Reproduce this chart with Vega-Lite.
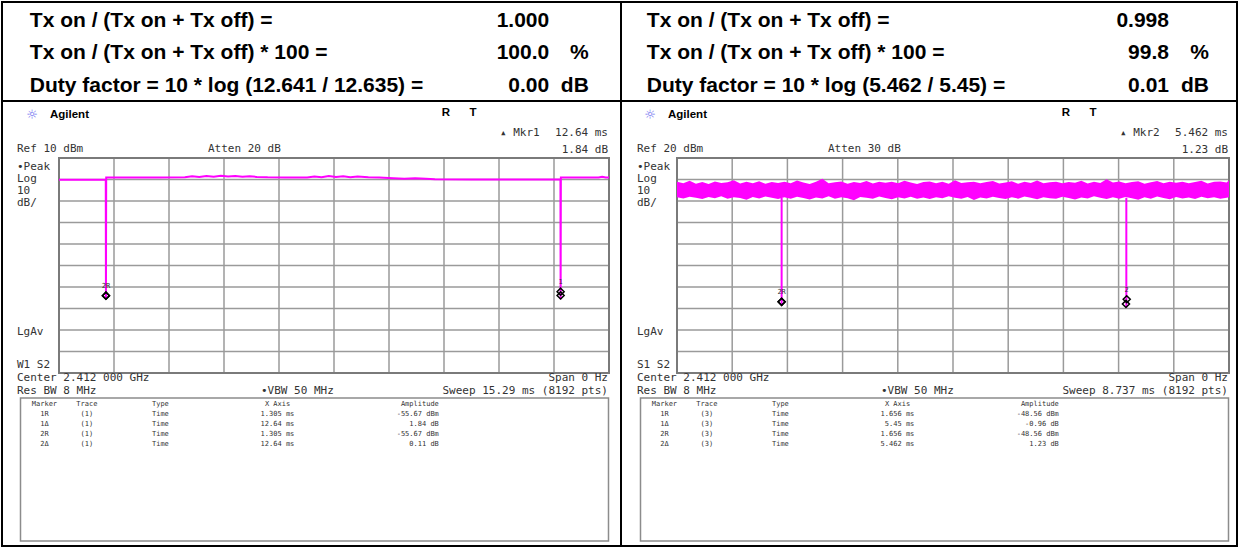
{
  "$schema": "https://vega.github.io/schema/vega-lite/v6.json",
  "padding": 1,
  "background": "white",
  "spacing": 0,
  "columns": 2,
  "bounds": "flush",
  "config": {"view": {"stroke": "#000000", "strokeWidth": 2}, "concat": {"spacing": 0}},
  "datasets": {
    "header": [
      {"panel": "L", "row": 1, "label": "Tx on / (Tx on + Tx off) =", "number": "1.000", "unit": ""},
      {"panel": "L", "row": 2, "label": "Tx on / (Tx on + Tx off) * 100 =", "number": "100.0", "unit": "%"},
      {"panel": "L", "row": 3, "label": "Duty factor = 10 * log (12.641 / 12.635) =", "number": "0.00", "unit": "dB"},
      {"panel": "R", "row": 1, "label": "Tx on / (Tx on + Tx off) =", "number": "0.998", "unit": ""},
      {"panel": "R", "row": 2, "label": "Tx on / (Tx on + Tx off) * 100 =", "number": "99.8", "unit": "%"},
      {"panel": "R", "row": 3, "label": "Duty factor = 10 * log (5.462 / 5.45) =", "number": "0.01", "unit": "dB"}
    ],
    "vgrid": [
      {"panel": "L", "t": 1.529}, {"panel": "L", "t": 3.058}, {"panel": "L", "t": 4.587}, {"panel": "L", "t": 6.116}, {"panel": "L", "t": 7.645},
      {"panel": "L", "t": 9.174}, {"panel": "L", "t": 10.703}, {"panel": "L", "t": 12.232}, {"panel": "L", "t": 13.761},
      {"panel": "R", "t": 0.8737}, {"panel": "R", "t": 1.7474}, {"panel": "R", "t": 2.6211}, {"panel": "R", "t": 3.4948}, {"panel": "R", "t": 4.3685},
      {"panel": "R", "t": 5.2422}, {"panel": "R", "t": 6.1159}, {"panel": "R", "t": 6.9896}, {"panel": "R", "t": 7.8633}
    ],
    "hgrid": [
      {"panel": "L", "dbm": 0}, {"panel": "L", "dbm": -10}, {"panel": "L", "dbm": -20}, {"panel": "L", "dbm": -30}, {"panel": "L", "dbm": -40},
      {"panel": "L", "dbm": -50}, {"panel": "L", "dbm": -60}, {"panel": "L", "dbm": -70}, {"panel": "L", "dbm": -80},
      {"panel": "R", "dbm": 10}, {"panel": "R", "dbm": 0}, {"panel": "R", "dbm": -10}, {"panel": "R", "dbm": -20}, {"panel": "R", "dbm": -30},
      {"panel": "R", "dbm": -40}, {"panel": "R", "dbm": -50}, {"panel": "R", "dbm": -60}, {"panel": "R", "dbm": -70}
    ],
    "traceL": [
      {"t": 0, "dbm": -0.1}, {"t": 0.6, "dbm": -0.1}, {"t": 1.3, "dbm": -0.1}, {"t": 1.305, "dbm": -55.67}, {"t": 1.312, "dbm": 0.9},
      {"t": 2.0, "dbm": 0.9}, {"t": 2.8, "dbm": 0.9}, {"t": 3.5, "dbm": 1.0}, {"t": 3.7, "dbm": 1.5}, {"t": 3.9, "dbm": 1.2},
      {"t": 4.1, "dbm": 1.6}, {"t": 4.3, "dbm": 1.3}, {"t": 4.5, "dbm": 1.7}, {"t": 4.7, "dbm": 1.4}, {"t": 4.9, "dbm": 1.6},
      {"t": 5.1, "dbm": 1.3}, {"t": 5.3, "dbm": 1.5}, {"t": 5.5, "dbm": 1.2}, {"t": 5.8, "dbm": 1.0}, {"t": 6.3, "dbm": 0.9},
      {"t": 6.9, "dbm": 0.9}, {"t": 7.1, "dbm": 1.4}, {"t": 7.3, "dbm": 1.1}, {"t": 7.5, "dbm": 1.6}, {"t": 7.7, "dbm": 1.2},
      {"t": 7.9, "dbm": 1.5}, {"t": 8.1, "dbm": 1.1}, {"t": 8.3, "dbm": 1.4}, {"t": 8.6, "dbm": 1.0}, {"t": 8.9, "dbm": 0.9},
      {"t": 9.3, "dbm": 0.6}, {"t": 9.6, "dbm": 0.4}, {"t": 9.9, "dbm": 0.6}, {"t": 10.2, "dbm": 0.4}, {"t": 10.45, "dbm": 0.1},
      {"t": 11.5, "dbm": 0.0}, {"t": 12.5, "dbm": 0.0}, {"t": 13.5, "dbm": 0.0}, {"t": 13.94, "dbm": 0.0}, {"t": 13.945, "dbm": -55.67},
      {"t": 13.952, "dbm": 0.9}, {"t": 14.5, "dbm": 0.9}, {"t": 15.0, "dbm": 0.9}, {"t": 15.1, "dbm": 1.3}, {"t": 15.2, "dbm": 0.9},
      {"t": 15.29, "dbm": 0.9}
    ],
    "envR": [
      {"t": 0.0, "lo": 1.8, "hi": 8.9}, {"t": 0.1, "lo": 1.2, "hi": 8.2}, {"t": 0.2, "lo": 2.0, "hi": 9.4}, {"t": 0.3, "lo": 1.5, "hi": 8.0},
      {"t": 0.4, "lo": 0.9, "hi": 8.8}, {"t": 0.5, "lo": 1.9, "hi": 7.9}, {"t": 0.6, "lo": 1.3, "hi": 9.1}, {"t": 0.7, "lo": 2.2, "hi": 8.4},
      {"t": 0.8, "lo": 1.0, "hi": 8.7}, {"t": 0.9, "lo": 1.7, "hi": 9.6}, {"t": 1.0, "lo": 1.4, "hi": 8.1}, {"t": 1.1, "lo": 0.6, "hi": 8.9},
      {"t": 1.2, "lo": 1.9, "hi": 8.3}, {"t": 1.3, "lo": 1.2, "hi": 9.2}, {"t": 1.4, "lo": 2.1, "hi": 8.0}, {"t": 1.5, "lo": 1.5, "hi": 8.8},
      {"t": 1.6, "lo": 0.9, "hi": 8.4}, {"t": 1.7, "lo": 1.8, "hi": 9.0}, {"t": 1.8, "lo": 1.1, "hi": 8.2}, {"t": 1.9, "lo": 2.0, "hi": 9.5},
      {"t": 2.0, "lo": 1.4, "hi": 8.6}, {"t": 2.1, "lo": 0.7, "hi": 7.9}, {"t": 2.2, "lo": 1.6, "hi": 8.9}, {"t": 2.3, "lo": 1.2, "hi": 10.3},
      {"t": 2.4, "lo": 2.2, "hi": 8.3}, {"t": 2.5, "lo": 1.0, "hi": 8.7}, {"t": 2.6, "lo": 1.8, "hi": 9.1}, {"t": 2.7, "lo": 1.3, "hi": 8.0},
      {"t": 2.8, "lo": 0.4, "hi": 8.8}, {"t": 2.9, "lo": 1.9, "hi": 8.4}, {"t": 3.0, "lo": 1.5, "hi": 9.3}, {"t": 3.1, "lo": 1.0, "hi": 8.1},
      {"t": 3.2, "lo": 2.1, "hi": 8.9}, {"t": 3.3, "lo": 1.4, "hi": 8.5}, {"t": 3.4, "lo": 0.8, "hi": 9.0}, {"t": 3.5, "lo": 1.7, "hi": 8.2},
      {"t": 3.6, "lo": 1.2, "hi": 9.4}, {"t": 3.7, "lo": 2.0, "hi": 8.6}, {"t": 3.8, "lo": 1.1, "hi": 7.9}, {"t": 3.9, "lo": 1.6, "hi": 8.8},
      {"t": 4.0, "lo": 0.9, "hi": 9.1}, {"t": 4.1, "lo": 1.8, "hi": 8.3}, {"t": 4.2, "lo": 1.3, "hi": 8.9}, {"t": 4.3, "lo": 2.2, "hi": 8.0},
      {"t": 4.4, "lo": 1.5, "hi": 9.6}, {"t": 4.5, "lo": 1.0, "hi": 8.4}, {"t": 4.6, "lo": 1.9, "hi": 8.7}, {"t": 4.7, "lo": 0.5, "hi": 9.0},
      {"t": 4.8, "lo": 1.6, "hi": 8.2}, {"t": 4.9, "lo": 1.2, "hi": 8.8}, {"t": 5.0, "lo": 2.0, "hi": 9.3}, {"t": 5.1, "lo": 1.4, "hi": 8.1},
      {"t": 5.2, "lo": 0.9, "hi": 8.6}, {"t": 5.3, "lo": 1.7, "hi": 9.2}, {"t": 5.4, "lo": 1.1, "hi": 8.0}, {"t": 5.5, "lo": 2.1, "hi": 8.9},
      {"t": 5.6, "lo": 1.5, "hi": 8.4}, {"t": 5.7, "lo": 0.8, "hi": 9.5}, {"t": 5.8, "lo": 1.8, "hi": 8.3}, {"t": 5.9, "lo": 1.3, "hi": 8.7},
      {"t": 6.0, "lo": 1.0, "hi": 9.0}, {"t": 6.1, "lo": 2.0, "hi": 8.2}, {"t": 6.2, "lo": 1.4, "hi": 8.8}, {"t": 6.3, "lo": 0.7, "hi": 8.5},
      {"t": 6.4, "lo": 1.6, "hi": 9.4}, {"t": 6.5, "lo": 1.2, "hi": 8.1}, {"t": 6.6, "lo": 2.2, "hi": 8.9}, {"t": 6.7, "lo": 1.5, "hi": 8.4},
      {"t": 6.8, "lo": 0.9, "hi": 10.1}, {"t": 6.9, "lo": 1.8, "hi": 8.6}, {"t": 7.0, "lo": 1.1, "hi": 9.1}, {"t": 7.1, "lo": 1.9, "hi": 8.3},
      {"t": 7.2, "lo": 1.3, "hi": 8.8}, {"t": 7.3, "lo": 0.6, "hi": 9.2}, {"t": 7.4, "lo": 1.7, "hi": 8.0}, {"t": 7.5, "lo": 1.0, "hi": 8.7},
      {"t": 7.6, "lo": 2.1, "hi": 9.3}, {"t": 7.7, "lo": 1.4, "hi": 8.2}, {"t": 7.8, "lo": 0.8, "hi": 8.9}, {"t": 7.9, "lo": 1.9, "hi": 8.5},
      {"t": 8.0, "lo": 1.2, "hi": 9.0}, {"t": 8.1, "lo": 1.6, "hi": 8.3}, {"t": 8.2, "lo": 0.9, "hi": 8.8}, {"t": 8.3, "lo": 2.0, "hi": 9.4},
      {"t": 8.4, "lo": 1.3, "hi": 8.1}, {"t": 8.5, "lo": 1.7, "hi": 8.9}, {"t": 8.6, "lo": 1.0, "hi": 9.1}, {"t": 8.7, "lo": 1.5, "hi": 8.6},
      {"t": 8.737, "lo": 1.8, "hi": 9.7}
    ],
    "dipsR": [
      {"t": 1.656, "lo": -48.56, "hi": 1.5},
      {"t": 7.112, "lo": -49.52, "hi": 1.5}
    ],
    "markers": [
      {"panel": "L", "marker": "1R", "t": 1.305, "dbm": -55.67, "label": ""},
      {"panel": "L", "marker": "2R", "t": 1.305, "dbm": -55.67, "label": "2R"},
      {"panel": "L", "marker": "1Δ", "t": 13.945, "dbm": -53.83, "label": "1"},
      {"panel": "L", "marker": "2Δ", "t": 13.945, "dbm": -55.56, "label": ""},
      {"panel": "R", "marker": "1R", "t": 1.656, "dbm": -48.56, "label": ""},
      {"panel": "R", "marker": "2R", "t": 1.656, "dbm": -48.56, "label": "2R"},
      {"panel": "R", "marker": "1Δ", "t": 7.106, "dbm": -49.52, "label": ""},
      {"panel": "R", "marker": "2Δ", "t": 7.118, "dbm": -47.33, "label": "2"}
    ],
    "table": [
      {"panel": "L", "order": 2, "marker": "1R", "trace": "(1)", "type": "Time", "xaxis": "1.305 ms", "amplitude": "-55.67 dBm"},
      {"panel": "L", "order": 3, "marker": "1Δ", "trace": "(1)", "type": "Time", "xaxis": "12.64 ms", "amplitude": "1.84 dB"},
      {"panel": "L", "order": 4, "marker": "2R", "trace": "(1)", "type": "Time", "xaxis": "1.305 ms", "amplitude": "-55.67 dBm"},
      {"panel": "L", "order": 5, "marker": "2Δ", "trace": "(1)", "type": "Time", "xaxis": "12.64 ms", "amplitude": "0.11 dB"},
      {"panel": "R", "order": 2, "marker": "1R", "trace": "(3)", "type": "Time", "xaxis": "1.656 ms", "amplitude": "-48.56 dBm"},
      {"panel": "R", "order": 3, "marker": "1Δ", "trace": "(3)", "type": "Time", "xaxis": "5.45 ms", "amplitude": "-0.96 dB"},
      {"panel": "R", "order": 4, "marker": "2R", "trace": "(3)", "type": "Time", "xaxis": "1.656 ms", "amplitude": "-48.56 dBm"},
      {"panel": "R", "order": 5, "marker": "2Δ", "trace": "(3)", "type": "Time", "xaxis": "5.462 ms", "amplitude": "1.23 dB"}
    ]
  },
  "concat": [
    {
      "width": 619,
      "height": 99,
      "data": {"name": "header"},
      "transform": [{"filter": "datum.panel === 'L'"}],
      "layer": [
        {"mark": {"type": "text", "align": "left", "baseline": "alphabetic", "font": "Liberation Sans", "fontWeight": "bold", "fontSize": 21, "color": "#000000"},
         "encoding": {
           "x": {"datum": 0.045, "type": "quantitative", "scale": {"domain": [0, 1], "range": [0, 619], "nice": false, "zero": false}, "axis": null},
           "y": {"field": "row", "type": "quantitative", "scale": {"domain": [1, 3], "range": [25, 89.5], "nice": false, "zero": false}, "axis": null},
           "text": {"field": "label"}}},
        {"mark": {"type": "text", "align": "right", "baseline": "alphabetic", "font": "Liberation Sans", "fontWeight": "bold", "fontSize": 21, "color": "#000000"},
         "encoding": {
           "x": {"datum": 0.884, "type": "quantitative", "axis": null},
           "y": {"field": "row", "type": "quantitative", "axis": null},
           "text": {"field": "number"}}},
        {"mark": {"type": "text", "align": "right", "baseline": "alphabetic", "font": "Liberation Sans", "fontWeight": "bold", "fontSize": 21, "color": "#000000"},
         "encoding": {
           "x": {"datum": 0.948, "type": "quantitative", "axis": null},
           "y": {"field": "row", "type": "quantitative", "axis": null},
           "text": {"field": "unit"}}}
      ]
    },
    {
      "width": 616,
      "height": 99,
      "data": {"name": "header"},
      "transform": [{"filter": "datum.panel === 'R'"}],
      "layer": [
        {"mark": {"type": "text", "align": "left", "baseline": "alphabetic", "font": "Liberation Sans", "fontWeight": "bold", "fontSize": 21, "color": "#000000"},
         "encoding": {
           "x": {"datum": 0.042, "type": "quantitative", "scale": {"domain": [0, 1], "range": [0, 616], "nice": false, "zero": false}, "axis": null},
           "y": {"field": "row", "type": "quantitative", "scale": {"domain": [1, 3], "range": [25, 89.5], "nice": false, "zero": false}, "axis": null},
           "text": {"field": "label"}}},
        {"mark": {"type": "text", "align": "right", "baseline": "alphabetic", "font": "Liberation Sans", "fontWeight": "bold", "fontSize": 21, "color": "#000000"},
         "encoding": {
           "x": {"datum": 0.8896, "type": "quantitative", "axis": null},
           "y": {"field": "row", "type": "quantitative", "axis": null},
           "text": {"field": "number"}}},
        {"mark": {"type": "text", "align": "right", "baseline": "alphabetic", "font": "Liberation Sans", "fontWeight": "bold", "fontSize": 21, "color": "#000000"},
         "encoding": {
           "x": {"datum": 0.9545, "type": "quantitative", "axis": null},
           "y": {"field": "row", "type": "quantitative", "axis": null},
           "text": {"field": "unit"}}}
      ]
    },
    {
      "width": 619,
      "height": 445,
      "resolve": {"scale": {"x": "independent", "y": "independent"}},
      "layer": [
        {
          "layer": [
            {"data": {"name": "vgrid"}, "transform": [{"filter": "datum.panel === 'L'"}],
             "mark": {"type": "rule", "color": "#9a9a9a", "strokeWidth": 1.5},
             "encoding": {
               "x": {"field": "t", "type": "quantitative", "scale": {"domain": [0, 15.29], "range": [57, 607], "nice": false, "zero": false}, "axis": null},
               "y": {"datum": -90, "type": "quantitative", "scale": {"domain": [-90, 10], "range": [272, 57], "nice": false, "zero": false}, "axis": null},
               "y2": {"datum": 10}}},
            {"data": {"name": "hgrid"}, "transform": [{"filter": "datum.panel === 'L'"}],
             "mark": {"type": "rule", "color": "#9a9a9a", "strokeWidth": 1.5},
             "encoding": {
               "y": {"field": "dbm", "type": "quantitative", "axis": null},
               "x": {"datum": 0, "type": "quantitative", "axis": null},
               "x2": {"datum": 15.29}}},
            {"data": {"values": [{}]},
             "mark": {"type": "rect", "fillOpacity": 0, "stroke": "#7a7a7a", "strokeWidth": 2},
             "encoding": {
               "x": {"datum": 0, "type": "quantitative", "axis": null}, "x2": {"datum": 15.29},
               "y": {"datum": -90, "type": "quantitative", "axis": null}, "y2": {"datum": 10}}},
            {"data": {"name": "traceL"},
             "mark": {"type": "line", "color": "#ff00ff", "strokeWidth": 2},
             "encoding": {
               "x": {"field": "t", "type": "quantitative", "axis": null},
               "y": {"field": "dbm", "type": "quantitative", "axis": null}}},
            {"data": {"name": "markers"}, "transform": [{"filter": "datum.panel === 'L'"}],
             "mark": {"type": "point", "shape": "M0,-1L0.5,-0.5L0,0L-0.5,-0.5Z", "filled": false, "color": "#000000", "strokeWidth": 1.5, "size": 200, "opacity": 1},
             "encoding": {
               "x": {"field": "t", "type": "quantitative", "axis": null},
               "y": {"field": "dbm", "type": "quantitative", "axis": null}}},
            {"data": {"name": "markers"}, "transform": [{"filter": "datum.panel === 'L' && datum.label !== ''"}],
             "mark": {"type": "text", "dy": -13, "font": "DejaVu Sans Mono", "fontSize": 7, "color": "#333333"},
             "encoding": {
               "x": {"field": "t", "type": "quantitative", "axis": null},
               "y": {"field": "dbm", "type": "quantitative", "axis": null},
               "text": {"field": "label"}}},
            {
              "data": {"values": [{}]},
              "layer": [
                {"mark": {"type": "text", "text": "☼", "align": "center", "baseline": "middle", "dx": -27, "dy": -43, "font": "DejaVu Sans", "fontSize": 13, "color": "#7070f0"},
                 "encoding": {"x": {"datum": 0, "type": "quantitative", "axis": null}, "y": {"datum": 10, "type": "quantitative", "axis": null}}},
                {"mark": {"type": "text", "text": "Agilent", "align": "left", "baseline": "middle", "dx": -9, "dy": -43, "font": "Liberation Sans", "fontWeight": "bold", "fontSize": 11.5, "color": "#000000"},
                 "encoding": {"x": {"datum": 0, "type": "quantitative", "axis": null}, "y": {"datum": 10, "type": "quantitative", "axis": null}}},
                {"mark": {"type": "text", "text": "R", "align": "center", "baseline": "middle", "dx": -163, "dy": -45, "font": "Liberation Sans", "fontWeight": "bold", "fontSize": 11.5, "color": "#000000"},
                 "encoding": {"x": {"datum": 15.29, "type": "quantitative", "axis": null}, "y": {"datum": 10, "type": "quantitative", "axis": null}}},
                {"mark": {"type": "text", "text": "T", "align": "center", "baseline": "middle", "dx": -136, "dy": -45, "font": "Liberation Sans", "fontWeight": "bold", "fontSize": 11.5, "color": "#000000"},
                 "encoding": {"x": {"datum": 15.29, "type": "quantitative", "axis": null}, "y": {"datum": 10, "type": "quantitative", "axis": null}}},
                {"mark": {"type": "text", "text": "▴ Mkr1", "align": "left", "baseline": "middle", "dx": -109, "dy": -25, "font": "DejaVu Sans Mono", "fontSize": 11, "color": "#333333"},
                 "encoding": {"x": {"datum": 15.29, "type": "quantitative", "axis": null}, "y": {"datum": 10, "type": "quantitative", "axis": null}}},
                {"mark": {"type": "text", "text": ["12.64 ms", "1.84 dB"], "align": "right", "baseline": "middle", "lineHeight": 16.5, "dx": -1, "dy": -25, "font": "DejaVu Sans Mono", "fontSize": 11, "color": "#333333"},
                 "encoding": {"x": {"datum": 15.29, "type": "quantitative", "axis": null}, "y": {"datum": 10, "type": "quantitative", "axis": null}}},
                {"mark": {"type": "text", "text": "Ref 10 dBm", "align": "left", "baseline": "middle", "dx": -42, "dy": -9, "font": "DejaVu Sans Mono", "fontSize": 11, "color": "#333333"},
                 "encoding": {"x": {"datum": 0, "type": "quantitative", "axis": null}, "y": {"datum": 10, "type": "quantitative", "axis": null}}},
                {"mark": {"type": "text", "text": "Atten 20 dB", "align": "left", "baseline": "middle", "dx": 149, "dy": -9, "font": "DejaVu Sans Mono", "fontSize": 11, "color": "#333333"},
                 "encoding": {"x": {"datum": 0, "type": "quantitative", "axis": null}, "y": {"datum": 10, "type": "quantitative", "axis": null}}},
                {"mark": {"type": "text", "text": ["•Peak", "Log", "10", "dB/"], "align": "left", "baseline": "middle", "lineHeight": 12, "dx": -42, "dy": 9, "font": "DejaVu Sans Mono", "fontSize": 11, "color": "#333333"},
                 "encoding": {"x": {"datum": 0, "type": "quantitative", "axis": null}, "y": {"datum": 10, "type": "quantitative", "axis": null}}},
                {"mark": {"type": "text", "text": "LgAv", "align": "left", "baseline": "middle", "dx": -42, "dy": -41, "font": "DejaVu Sans Mono", "fontSize": 11, "color": "#333333"},
                 "encoding": {"x": {"datum": 0, "type": "quantitative", "axis": null}, "y": {"datum": -90, "type": "quantitative", "axis": null}}},
                {"mark": {"type": "text", "text": "W1 S2", "align": "left", "baseline": "middle", "dx": -42, "dy": -8, "font": "DejaVu Sans Mono", "fontSize": 11, "color": "#333333"},
                 "encoding": {"x": {"datum": 0, "type": "quantitative", "axis": null}, "y": {"datum": -90, "type": "quantitative", "axis": null}}},
                {"mark": {"type": "text", "text": ["Center 2.412 000 GHz", "Res BW 8 MHz"], "align": "left", "baseline": "middle", "lineHeight": 13, "dx": -42, "dy": 5, "font": "DejaVu Sans Mono", "fontSize": 11, "color": "#333333"},
                 "encoding": {"x": {"datum": 0, "type": "quantitative", "axis": null}, "y": {"datum": -90, "type": "quantitative", "axis": null}}},
                {"mark": {"type": "text", "text": ["Span 0 Hz", "Sweep 15.29 ms (8192 pts)"], "align": "right", "baseline": "middle", "lineHeight": 13, "dx": -1, "dy": 5, "font": "DejaVu Sans Mono", "fontSize": 11, "color": "#333333"},
                 "encoding": {"x": {"datum": 15.29, "type": "quantitative", "axis": null}, "y": {"datum": -90, "type": "quantitative", "axis": null}}},
                {"mark": {"type": "text", "text": "•VBW 50 MHz", "align": "left", "baseline": "middle", "dx": 202, "dy": 18, "font": "DejaVu Sans Mono", "fontSize": 11, "color": "#333333"},
                 "encoding": {"x": {"datum": 0, "type": "quantitative", "axis": null}, "y": {"datum": -90, "type": "quantitative", "axis": null}}}
              ]
            }
          ]
        },
        {
          "data": {"name": "table"},
          "transform": [{"filter": "datum.panel === 'L'"}],
          "layer": [
            {"data": {"values": [{}]},
             "mark": {"type": "rect", "fillOpacity": 0, "stroke": "#8c8c8c", "strokeWidth": 1.5},
             "encoding": {
               "x": {"datum": 0, "type": "quantitative", "scale": {"domain": [0, 140], "range": [18.5, 606.5], "nice": false, "zero": false}, "axis": null},
               "x2": {"datum": 140},
               "y": {"datum": 0.4, "type": "quantitative", "scale": {"domain": [0.4, 14.7], "range": [297, 440], "nice": false, "zero": false}, "axis": null},
               "y2": {"datum": 14.7}}},
            {"data": {"values": [{}]},
             "mark": {"type": "text", "text": "Marker", "align": "center", "baseline": "middle", "font": "DejaVu Sans Mono", "fontSize": 7, "color": "#333333"},
             "encoding": {"x": {"datum": 5.7, "type": "quantitative", "axis": null}, "y": {"datum": 1, "type": "quantitative", "axis": null}}},
            {"data": {"values": [{}]},
             "mark": {"type": "text", "text": "Trace", "align": "center", "baseline": "middle", "font": "DejaVu Sans Mono", "fontSize": 7, "color": "#333333"},
             "encoding": {"x": {"datum": 15.8, "type": "quantitative", "axis": null}, "y": {"datum": 1, "type": "quantitative", "axis": null}}},
            {"data": {"values": [{}]},
             "mark": {"type": "text", "text": "Type", "align": "left", "baseline": "middle", "font": "DejaVu Sans Mono", "fontSize": 7, "color": "#333333"},
             "encoding": {"x": {"datum": 31.3, "type": "quantitative", "axis": null}, "y": {"datum": 1, "type": "quantitative", "axis": null}}},
            {"data": {"values": [{}]},
             "mark": {"type": "text", "text": "X Axis", "align": "left", "baseline": "middle", "font": "DejaVu Sans Mono", "fontSize": 7, "color": "#333333"},
             "encoding": {"x": {"datum": 58.2, "type": "quantitative", "axis": null}, "y": {"datum": 1, "type": "quantitative", "axis": null}}},
            {"data": {"values": [{}]},
             "mark": {"type": "text", "text": "Amplitude", "align": "right", "baseline": "middle", "font": "DejaVu Sans Mono", "fontSize": 7, "color": "#333333"},
             "encoding": {"x": {"datum": 99.6, "type": "quantitative", "axis": null}, "y": {"datum": 1, "type": "quantitative", "axis": null}}},
            {"mark": {"type": "text", "align": "center", "baseline": "middle", "font": "DejaVu Sans Mono", "fontSize": 7, "color": "#333333"},
             "encoding": {"x": {"datum": 5.7, "type": "quantitative", "axis": null}, "y": {"field": "order", "type": "quantitative", "axis": null}, "text": {"field": "marker"}}},
            {"mark": {"type": "text", "align": "center", "baseline": "middle", "font": "DejaVu Sans Mono", "fontSize": 7, "color": "#333333"},
             "encoding": {"x": {"datum": 15.8, "type": "quantitative", "axis": null}, "y": {"field": "order", "type": "quantitative", "axis": null}, "text": {"field": "trace"}}},
            {"mark": {"type": "text", "align": "left", "baseline": "middle", "font": "DejaVu Sans Mono", "fontSize": 7, "color": "#333333"},
             "encoding": {"x": {"datum": 31.3, "type": "quantitative", "axis": null}, "y": {"field": "order", "type": "quantitative", "axis": null}, "text": {"field": "type"}}},
            {"mark": {"type": "text", "align": "right", "baseline": "middle", "font": "DejaVu Sans Mono", "fontSize": 7, "color": "#333333"},
             "encoding": {"x": {"datum": 65.2, "type": "quantitative", "axis": null}, "y": {"field": "order", "type": "quantitative", "axis": null}, "text": {"field": "xaxis"}}},
            {"mark": {"type": "text", "align": "right", "baseline": "middle", "font": "DejaVu Sans Mono", "fontSize": 7, "color": "#333333"},
             "encoding": {"x": {"datum": 99.6, "type": "quantitative", "axis": null}, "y": {"field": "order", "type": "quantitative", "axis": null}, "text": {"field": "amplitude"}}}
          ]
        }
      ]
    },
    {
      "width": 616,
      "height": 445,
      "resolve": {"scale": {"x": "independent", "y": "independent"}},
      "layer": [
        {
          "layer": [
            {"data": {"name": "vgrid"}, "transform": [{"filter": "datum.panel === 'R'"}],
             "mark": {"type": "rule", "color": "#9a9a9a", "strokeWidth": 1.5},
             "encoding": {
               "x": {"field": "t", "type": "quantitative", "scale": {"domain": [0, 8.737], "range": [56, 608], "nice": false, "zero": false}, "axis": null},
               "y": {"datum": -80, "type": "quantitative", "scale": {"domain": [-80, 20], "range": [272, 57], "nice": false, "zero": false}, "axis": null},
               "y2": {"datum": 20}}},
            {"data": {"name": "hgrid"}, "transform": [{"filter": "datum.panel === 'R'"}],
             "mark": {"type": "rule", "color": "#9a9a9a", "strokeWidth": 1.5},
             "encoding": {
               "y": {"field": "dbm", "type": "quantitative", "axis": null},
               "x": {"datum": 0, "type": "quantitative", "axis": null},
               "x2": {"datum": 8.737}}},
            {"data": {"values": [{}]},
             "mark": {"type": "rect", "fillOpacity": 0, "stroke": "#7a7a7a", "strokeWidth": 2},
             "encoding": {
               "x": {"datum": 0, "type": "quantitative", "axis": null}, "x2": {"datum": 8.737},
               "y": {"datum": -80, "type": "quantitative", "axis": null}, "y2": {"datum": 20}}},
            {"data": {"name": "envR"},
             "mark": {"type": "area", "color": "#ff00ff", "opacity": 1},
             "encoding": {
               "x": {"field": "t", "type": "quantitative", "axis": null},
               "y": {"field": "lo", "type": "quantitative", "axis": null},
               "y2": {"field": "hi"}}},
            {"data": {"name": "dipsR"},
             "mark": {"type": "rule", "color": "#ff00ff", "strokeWidth": 2},
             "encoding": {
               "x": {"field": "t", "type": "quantitative", "axis": null},
               "y": {"field": "lo", "type": "quantitative", "axis": null},
               "y2": {"field": "hi"}}},
            {"data": {"name": "markers"}, "transform": [{"filter": "datum.panel === 'R'"}],
             "mark": {"type": "point", "shape": "M0,-1L0.5,-0.5L0,0L-0.5,-0.5Z", "filled": false, "color": "#000000", "strokeWidth": 1.5, "size": 200, "opacity": 1},
             "encoding": {
               "x": {"field": "t", "type": "quantitative", "axis": null},
               "y": {"field": "dbm", "type": "quantitative", "axis": null}}},
            {"data": {"name": "markers"}, "transform": [{"filter": "datum.panel === 'R' && datum.label !== ''"}],
             "mark": {"type": "text", "dy": -13, "font": "DejaVu Sans Mono", "fontSize": 7, "color": "#333333"},
             "encoding": {
               "x": {"field": "t", "type": "quantitative", "axis": null},
               "y": {"field": "dbm", "type": "quantitative", "axis": null},
               "text": {"field": "label"}}},
            {
              "data": {"values": [{}]},
              "layer": [
                {"mark": {"type": "text", "text": "☼", "align": "center", "baseline": "middle", "dx": -27, "dy": -43, "font": "DejaVu Sans", "fontSize": 13, "color": "#7070f0"},
                 "encoding": {"x": {"datum": 0, "type": "quantitative", "axis": null}, "y": {"datum": 20, "type": "quantitative", "axis": null}}},
                {"mark": {"type": "text", "text": "Agilent", "align": "left", "baseline": "middle", "dx": -9, "dy": -43, "font": "Liberation Sans", "fontWeight": "bold", "fontSize": 11.5, "color": "#000000"},
                 "encoding": {"x": {"datum": 0, "type": "quantitative", "axis": null}, "y": {"datum": 20, "type": "quantitative", "axis": null}}},
                {"mark": {"type": "text", "text": "R", "align": "center", "baseline": "middle", "dx": -163, "dy": -45, "font": "Liberation Sans", "fontWeight": "bold", "fontSize": 11.5, "color": "#000000"},
                 "encoding": {"x": {"datum": 8.737, "type": "quantitative", "axis": null}, "y": {"datum": 20, "type": "quantitative", "axis": null}}},
                {"mark": {"type": "text", "text": "T", "align": "center", "baseline": "middle", "dx": -136, "dy": -45, "font": "Liberation Sans", "fontWeight": "bold", "fontSize": 11.5, "color": "#000000"},
                 "encoding": {"x": {"datum": 8.737, "type": "quantitative", "axis": null}, "y": {"datum": 20, "type": "quantitative", "axis": null}}},
                {"mark": {"type": "text", "text": "▴ Mkr2", "align": "left", "baseline": "middle", "dx": -109, "dy": -25, "font": "DejaVu Sans Mono", "fontSize": 11, "color": "#333333"},
                 "encoding": {"x": {"datum": 8.737, "type": "quantitative", "axis": null}, "y": {"datum": 20, "type": "quantitative", "axis": null}}},
                {"mark": {"type": "text", "text": ["5.462 ms", "1.23 dB"], "align": "right", "baseline": "middle", "lineHeight": 16.5, "dx": -1, "dy": -25, "font": "DejaVu Sans Mono", "fontSize": 11, "color": "#333333"},
                 "encoding": {"x": {"datum": 8.737, "type": "quantitative", "axis": null}, "y": {"datum": 20, "type": "quantitative", "axis": null}}},
                {"mark": {"type": "text", "text": "Ref 20 dBm", "align": "left", "baseline": "middle", "dx": -40, "dy": -9, "font": "DejaVu Sans Mono", "fontSize": 11, "color": "#333333"},
                 "encoding": {"x": {"datum": 0, "type": "quantitative", "axis": null}, "y": {"datum": 20, "type": "quantitative", "axis": null}}},
                {"mark": {"type": "text", "text": "Atten 30 dB", "align": "left", "baseline": "middle", "dx": 151, "dy": -9, "font": "DejaVu Sans Mono", "fontSize": 11, "color": "#333333"},
                 "encoding": {"x": {"datum": 0, "type": "quantitative", "axis": null}, "y": {"datum": 20, "type": "quantitative", "axis": null}}},
                {"mark": {"type": "text", "text": ["•Peak", "Log", "10", "dB/"], "align": "left", "baseline": "middle", "lineHeight": 12, "dx": -40, "dy": 9, "font": "DejaVu Sans Mono", "fontSize": 11, "color": "#333333"},
                 "encoding": {"x": {"datum": 0, "type": "quantitative", "axis": null}, "y": {"datum": 20, "type": "quantitative", "axis": null}}},
                {"mark": {"type": "text", "text": "LgAv", "align": "left", "baseline": "middle", "dx": -40, "dy": -41, "font": "DejaVu Sans Mono", "fontSize": 11, "color": "#333333"},
                 "encoding": {"x": {"datum": 0, "type": "quantitative", "axis": null}, "y": {"datum": -80, "type": "quantitative", "axis": null}}},
                {"mark": {"type": "text", "text": "S1 S2", "align": "left", "baseline": "middle", "dx": -40, "dy": -8, "font": "DejaVu Sans Mono", "fontSize": 11, "color": "#333333"},
                 "encoding": {"x": {"datum": 0, "type": "quantitative", "axis": null}, "y": {"datum": -80, "type": "quantitative", "axis": null}}},
                {"mark": {"type": "text", "text": ["Center 2.412 000 GHz", "Res BW 8 MHz"], "align": "left", "baseline": "middle", "lineHeight": 13, "dx": -40, "dy": 5, "font": "DejaVu Sans Mono", "fontSize": 11, "color": "#333333"},
                 "encoding": {"x": {"datum": 0, "type": "quantitative", "axis": null}, "y": {"datum": -80, "type": "quantitative", "axis": null}}},
                {"mark": {"type": "text", "text": ["Span 0 Hz", "Sweep 8.737 ms (8192 pts)"], "align": "right", "baseline": "middle", "lineHeight": 13, "dx": -1, "dy": 5, "font": "DejaVu Sans Mono", "fontSize": 11, "color": "#333333"},
                 "encoding": {"x": {"datum": 8.737, "type": "quantitative", "axis": null}, "y": {"datum": -80, "type": "quantitative", "axis": null}}},
                {"mark": {"type": "text", "text": "•VBW 50 MHz", "align": "left", "baseline": "middle", "dx": 204, "dy": 18, "font": "DejaVu Sans Mono", "fontSize": 11, "color": "#333333"},
                 "encoding": {"x": {"datum": 0, "type": "quantitative", "axis": null}, "y": {"datum": -80, "type": "quantitative", "axis": null}}}
              ]
            }
          ]
        },
        {
          "data": {"name": "table"},
          "transform": [{"filter": "datum.panel === 'R'"}],
          "layer": [
            {"data": {"values": [{}]},
             "mark": {"type": "rect", "fillOpacity": 0, "stroke": "#8c8c8c", "strokeWidth": 1.5},
             "encoding": {
               "x": {"datum": 0, "type": "quantitative", "scale": {"domain": [0, 140], "range": [19.5, 607.5], "nice": false, "zero": false}, "axis": null},
               "x2": {"datum": 140},
               "y": {"datum": 0.4, "type": "quantitative", "scale": {"domain": [0.4, 14.7], "range": [297, 440], "nice": false, "zero": false}, "axis": null},
               "y2": {"datum": 14.7}}},
            {"data": {"values": [{}]},
             "mark": {"type": "text", "text": "Marker", "align": "center", "baseline": "middle", "font": "DejaVu Sans Mono", "fontSize": 7, "color": "#333333"},
             "encoding": {"x": {"datum": 5.7, "type": "quantitative", "axis": null}, "y": {"datum": 1, "type": "quantitative", "axis": null}}},
            {"data": {"values": [{}]},
             "mark": {"type": "text", "text": "Trace", "align": "center", "baseline": "middle", "font": "DejaVu Sans Mono", "fontSize": 7, "color": "#333333"},
             "encoding": {"x": {"datum": 15.8, "type": "quantitative", "axis": null}, "y": {"datum": 1, "type": "quantitative", "axis": null}}},
            {"data": {"values": [{}]},
             "mark": {"type": "text", "text": "Type", "align": "left", "baseline": "middle", "font": "DejaVu Sans Mono", "fontSize": 7, "color": "#333333"},
             "encoding": {"x": {"datum": 31.3, "type": "quantitative", "axis": null}, "y": {"datum": 1, "type": "quantitative", "axis": null}}},
            {"data": {"values": [{}]},
             "mark": {"type": "text", "text": "X Axis", "align": "left", "baseline": "middle", "font": "DejaVu Sans Mono", "fontSize": 7, "color": "#333333"},
             "encoding": {"x": {"datum": 58.2, "type": "quantitative", "axis": null}, "y": {"datum": 1, "type": "quantitative", "axis": null}}},
            {"data": {"values": [{}]},
             "mark": {"type": "text", "text": "Amplitude", "align": "right", "baseline": "middle", "font": "DejaVu Sans Mono", "fontSize": 7, "color": "#333333"},
             "encoding": {"x": {"datum": 99.6, "type": "quantitative", "axis": null}, "y": {"datum": 1, "type": "quantitative", "axis": null}}},
            {"mark": {"type": "text", "align": "center", "baseline": "middle", "font": "DejaVu Sans Mono", "fontSize": 7, "color": "#333333"},
             "encoding": {"x": {"datum": 5.7, "type": "quantitative", "axis": null}, "y": {"field": "order", "type": "quantitative", "axis": null}, "text": {"field": "marker"}}},
            {"mark": {"type": "text", "align": "center", "baseline": "middle", "font": "DejaVu Sans Mono", "fontSize": 7, "color": "#333333"},
             "encoding": {"x": {"datum": 15.8, "type": "quantitative", "axis": null}, "y": {"field": "order", "type": "quantitative", "axis": null}, "text": {"field": "trace"}}},
            {"mark": {"type": "text", "align": "left", "baseline": "middle", "font": "DejaVu Sans Mono", "fontSize": 7, "color": "#333333"},
             "encoding": {"x": {"datum": 31.3, "type": "quantitative", "axis": null}, "y": {"field": "order", "type": "quantitative", "axis": null}, "text": {"field": "type"}}},
            {"mark": {"type": "text", "align": "right", "baseline": "middle", "font": "DejaVu Sans Mono", "fontSize": 7, "color": "#333333"},
             "encoding": {"x": {"datum": 65.2, "type": "quantitative", "axis": null}, "y": {"field": "order", "type": "quantitative", "axis": null}, "text": {"field": "xaxis"}}},
            {"mark": {"type": "text", "align": "right", "baseline": "middle", "font": "DejaVu Sans Mono", "fontSize": 7, "color": "#333333"},
             "encoding": {"x": {"datum": 99.6, "type": "quantitative", "axis": null}, "y": {"field": "order", "type": "quantitative", "axis": null}, "text": {"field": "amplitude"}}}
          ]
        }
      ]
    }
  ]
}
